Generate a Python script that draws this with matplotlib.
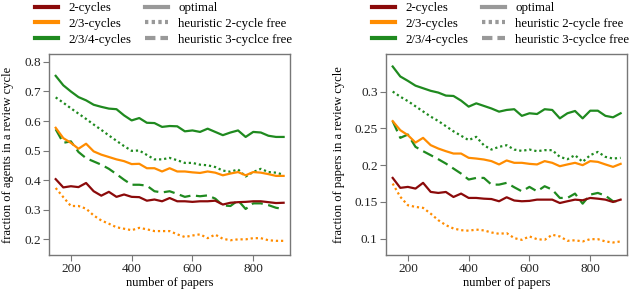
import numpy as np
import matplotlib
matplotlib.use('Agg')
import matplotlib.pyplot as plt
from matplotlib.lines import Line2D

plt.rcParams['font.family'] = ['Liberation Serif', 'DejaVu Serif']
plt.rcParams['font.size'] = 9

# number of papers
papers = list(range(150, 901, 25))

# left panel: fraction of agents in a review cycle
agents_2_opt = [0.403, 0.375, 0.379, 0.376, 0.390, 0.362, 0.347, 0.360, 0.343, 0.351, 0.343,
                0.342, 0.330, 0.334, 0.328, 0.339, 0.328, 0.328, 0.326, 0.328, 0.328, 0.330,
                0.317, 0.323, 0.325, 0.326, 0.328, 0.328, 0.325, 0.322, 0.323]
agents_23_opt = [0.577, 0.542, 0.526, 0.506, 0.523, 0.497, 0.486, 0.478, 0.470, 0.464, 0.454,
                 0.455, 0.440, 0.440, 0.429, 0.440, 0.429, 0.429, 0.426, 0.424, 0.429, 0.425,
                 0.416, 0.422, 0.427, 0.416, 0.427, 0.425, 0.420, 0.414, 0.414]
agents_23_h2 = [0.373, 0.342, 0.312, 0.312, 0.303, 0.280, 0.263, 0.252, 0.240, 0.235, 0.230,
                0.238, 0.233, 0.227, 0.227, 0.227, 0.216, 0.207, 0.212, 0.216, 0.203, 0.215,
                0.201, 0.196, 0.199, 0.199, 0.203, 0.203, 0.196, 0.194, 0.194]
agents_234_opt = [0.753, 0.721, 0.700, 0.681, 0.670, 0.655, 0.648, 0.642, 0.640, 0.619, 0.602,
                  0.610, 0.594, 0.593, 0.580, 0.583, 0.582, 0.565, 0.568, 0.563, 0.574, 0.563,
                  0.552, 0.561, 0.568, 0.546, 0.563, 0.561, 0.550, 0.546, 0.546]
agents_234_h2 = [0.680, 0.662, 0.643, 0.625, 0.607, 0.588, 0.570, 0.551, 0.533, 0.515, 0.499,
                 0.500, 0.485, 0.470, 0.470, 0.475, 0.467, 0.458, 0.458, 0.452, 0.450, 0.444,
                 0.432, 0.428, 0.436, 0.412, 0.427, 0.438, 0.427, 0.425, 0.418]
agents_234_h3 = [0.572, 0.526, 0.531, 0.495, 0.474, 0.463, 0.452, 0.438, 0.420, 0.401, 0.384,
                 0.384, 0.381, 0.362, 0.358, 0.362, 0.353, 0.343, 0.348, 0.345, 0.348, 0.337,
                 0.314, 0.312, 0.331, 0.302, 0.321, 0.321, 0.315, 0.306, 0.302]

# right panel: fraction of papers in a review cycle
papers_2_opt = [0.1827, 0.1692, 0.1705, 0.1682, 0.1760, 0.1637, 0.1623, 0.1636, 0.1568, 0.1614,
                0.1555, 0.1555, 0.1545, 0.1540, 0.1510, 0.1564, 0.1520, 0.1510, 0.1515, 0.1532,
                0.1532, 0.1532, 0.1486, 0.1510, 0.1532, 0.1523, 0.1555, 0.1545, 0.1532, 0.1500,
                0.1532]
papers_23_opt = [0.2598, 0.2475, 0.2408, 0.2307, 0.2371, 0.2272, 0.2226, 0.2190, 0.2158, 0.2158,
                 0.2100, 0.2090, 0.2077, 0.2055, 0.2010, 0.2064, 0.2032, 0.2032, 0.2018, 0.2010,
                 0.2055, 0.2032, 0.1986, 0.2010, 0.2032, 0.2000, 0.2055, 0.2045, 0.2010, 0.1977,
                 0.2018]
papers_23_h2 = [0.1750, 0.1570, 0.1456, 0.1433, 0.1420, 0.1342, 0.1253, 0.1185, 0.1140, 0.1117,
                0.1110, 0.1125, 0.1114, 0.1086, 0.1068, 0.1077, 0.1009, 0.0986, 0.1032, 0.0995,
                0.0986, 0.1055, 0.1032, 0.0973, 0.0980, 0.0964, 0.0995, 0.0995, 0.0964, 0.0950,
                0.0964]
papers_234_opt = [0.3340, 0.3205, 0.3145, 0.3080, 0.3045, 0.3010, 0.2986, 0.2945, 0.2940, 0.2877,
                  0.2795, 0.2840, 0.2805, 0.2770, 0.2727, 0.2750, 0.2760, 0.2670, 0.2705, 0.2695,
                  0.2760, 0.2750, 0.2636, 0.2705, 0.2736, 0.2636, 0.2740, 0.2740, 0.2670, 0.2650,
                  0.2705]
papers_234_h2 = [0.3000, 0.2930, 0.2870, 0.2800, 0.2730, 0.2660, 0.2600, 0.2530, 0.2460, 0.2400,
                 0.2340, 0.2385, 0.2270, 0.2212, 0.2249, 0.2271, 0.2212, 0.2194, 0.2212, 0.2190,
                 0.2204, 0.2204, 0.2113, 0.2081, 0.2136, 0.2045, 0.2136, 0.2180, 0.2113, 0.2090,
                 0.2099]
papers_234_h3 = [0.2598, 0.2371, 0.2416, 0.2249, 0.2190, 0.2136, 0.2081, 0.2022, 0.1954, 0.1886,
                 0.1805, 0.1827, 0.1827, 0.1736, 0.1736, 0.1760, 0.1700, 0.1645, 0.1705, 0.1645,
                 0.1714, 0.1668, 0.1555, 0.1555, 0.1614, 0.1477, 0.1600, 0.1623, 0.1586, 0.1510,
                 0.1510]

RED = '#8b0a0a'
ORANGE = '#ff8c00'
GREEN = '#1f8a1f'
GRAY = '#999999'
DOT = (0, (1, 1.3))
DASH = (0, (5, 2.5))

fig = plt.figure(figsize=(6.4, 2.89), dpi=100)
ax1 = fig.add_axes([49 / 640, 1 - 255 / 289, 241 / 640, 201 / 289])
ax2 = fig.add_axes([386 / 640, 1 - 255 / 289, 241 / 640, 201 / 289])

panels = [
    (ax1, agents_2_opt, agents_23_opt, agents_23_h2, agents_234_opt, agents_234_h2, agents_234_h3,
     'fraction of agents in a review cycle', (0.146, 0.827), [0.2, 0.3, 0.4, 0.5, 0.6, 0.7, 0.8]),
    (ax2, papers_2_opt, papers_23_opt, papers_23_h2, papers_234_opt, papers_234_h2, papers_234_h3,
     'fraction of papers in a review cycle', (0.078, 0.351), [0.1, 0.15, 0.2, 0.25, 0.3]),
]

for ax, r_opt, o_opt, o_h2, g_opt, g_h2, g_h3, ylab, ylim, yticks in panels:
    lw = 1.6
    ax.plot(papers, g_opt, color=GREEN, lw=lw)
    ax.plot(papers, g_h2, color=GREEN, lw=lw, linestyle=DOT)
    ax.plot(papers, g_h3, color=GREEN, lw=lw, linestyle=DASH)
    ax.plot(papers, o_opt, color=ORANGE, lw=lw)
    ax.plot(papers, o_h2, color=ORANGE, lw=lw, linestyle=DOT)
    ax.plot(papers, r_opt, color=RED, lw=lw)

    ax.set_xlim(128, 921)
    ax.set_ylim(*ylim)
    ax.set_xticks([200, 400, 600, 800])
    ax.set_yticks(yticks)
    ax.set_yticklabels([('%.2f' % t).rstrip('0') for t in yticks])
    ax.set_xlabel('number of papers', labelpad=1)
    ax.set_ylabel(ylab, labelpad=7)
    for s in ax.spines.values():
        s.set_color('#777777')
        s.set_linewidth(1.0)
    ax.tick_params(colors='#777777', labelcolor='#222222', length=4, width=0.8, pad=2,
                   labelsize=9.5)

    handles = [
        Line2D([], [], color=RED, lw=3),
        Line2D([], [], color=ORANGE, lw=3),
        Line2D([], [], color=GREEN, lw=3),
        Line2D([], [], color=GRAY, lw=3),
        Line2D([], [], color=GRAY, lw=3, linestyle=(0, (0.8, 0.8))),
        Line2D([], [], color=GRAY, lw=3, linestyle=(0, (2.5, 1.2))),
    ]
    labels = ['2-cycles', '2/3-cycles', '2/3/4-cycles',
              'optimal', 'heuristic 2-cycle free', 'heuristic 3-cyclce free']
    ax.legend(handles, labels, ncol=2, loc='lower left', bbox_to_anchor=(-0.065, 1.035),
              frameon=False, handlelength=1.8, handletextpad=0.8, columnspacing=1.05,
              labelspacing=0.28, borderaxespad=0.0, borderpad=0.1, fontsize=9.3)

fig.savefig('out.png', dpi=100)
